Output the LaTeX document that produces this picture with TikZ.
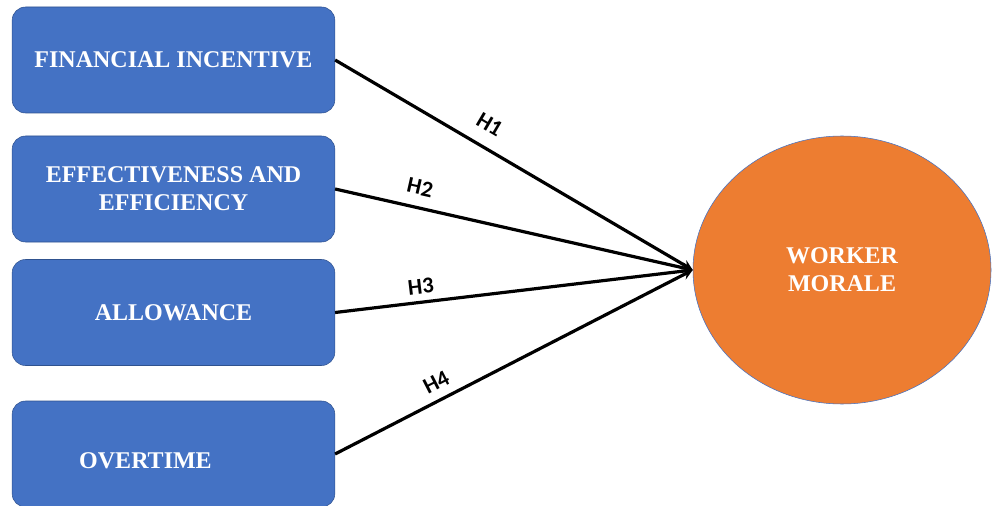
\documentclass[tikz,border=0pt]{standalone}
\usepackage{fontspec}
\setmainfont{Liberation Serif}
\newfontfamily\hypfont{Carlito}
\usetikzlibrary{shapes.geometric}
\definecolor{boxblue}{HTML}{4472C4}
\definecolor{boxedge}{HTML}{2F528F}
\definecolor{moraleorange}{HTML}{ED7D31}
\tikzset{
  factor/.style={draw=boxedge,fill=boxblue,rounded corners=10pt,minimum width=242pt,minimum height=79.5pt,
    inner sep=0pt,align=center,text=white,font=\fontsize{18}{21}\selectfont\bfseries},
  hyp/.style={font=\hypfont\fontsize{17}{17}\selectfont\bfseries,sloped}
}
\begin{document}
\begin{tikzpicture}[>=stealth,x=0.75pt,y=-0.75pt]
  \useasboundingbox (0,0) rectangle (992,506);
  % independent variables
  \node[factor] (fin) at (173.5,60) {FINANCIAL INCENTIVE};
  \node[factor] (eff) at (173.5,189) {EFFECTIVENESS AND\\EFFICIENCY};
  \node[factor] (allow) at (173.5,312.5) {ALLOWANCE};
  \node[factor] (over) at (173.5,454) {\raisebox{-10.5pt}[0pt][0pt]{OVERTIME}\hspace{42pt}};
  % dependent variable
  \node[ellipse,draw=boxblue,fill=moraleorange,minimum width=223.5pt,minimum height=201pt,inner sep=0pt,
    align=center,text=white,font=\fontsize{18}{21}\selectfont\bfseries] (morale) at (842,270) {WORKER\\MORALE};
  % hypotheses
  \draw[->,line width=2.4pt] (fin.east) -- node[hyp,pos=0.40,above=7pt] {H1} (morale.west);
  \draw[->,line width=2.4pt] (eff.east) -- node[hyp,pos=0.225,above=5pt] {H2} (morale.west);
  \draw[->,line width=2.4pt] (allow.east) -- node[hyp,pos=0.245,above=1.5pt] {H3} (morale.west);
  \draw[->,line width=2.4pt] (over.east) -- node[hyp,pos=0.305,above=3pt] {H4} (morale.west);
\end{tikzpicture}
\end{document}
